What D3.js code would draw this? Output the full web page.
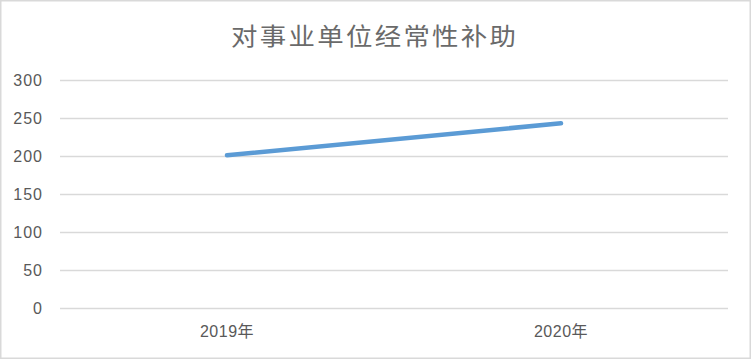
<!DOCTYPE html>
<html>
<head>
<meta charset="utf-8">
<script src="https://cdn.jsdelivr.net/npm/d3@7"></script>
<style>
html,body{margin:0;padding:0;background:#fff;}
svg{display:block;}
</style>
</head>
<body>
<svg id="chart" width="752" height="360"></svg>
<script>
const title = "对事业单位经常性补助";
const categories = ["2019年", "2020年"];
const values = [201, 243];
const yTicks = [0, 50, 100, 150, 200, 250, 300];

const W = 752, H = 360;
const margin = {left: 60, right: 24, top: 80, bottom: 52};
const svg = d3.select("#chart");

svg.append("rect")
  .attr("x", 0.75).attr("y", 0.75)
  .attr("width", W - 2.5).attr("height", H - 2.5)
  .attr("fill", "#fff").attr("stroke", "#d9d9d9").attr("stroke-width", 1.5);

const x = d3.scaleBand().domain(categories).range([margin.left, W - margin.right]);
const y = d3.scaleLinear().domain([0, 300]).range([H - margin.bottom, margin.top]);

// gridlines
const yAxis = d3.axisLeft(y).tickValues(yTicks).tickSize(-(W - margin.left - margin.right)).tickPadding(17);
const gy = svg.append("g").attr("transform", `translate(${margin.left},0)`).call(yAxis);
gy.select(".domain").remove();
gy.selectAll(".tick line").attr("stroke", "#d9d9d9").attr("stroke-width", 1.3);
gy.selectAll(".tick text")
  .attr("fill", "#595959")
  .style("font-family", "'Liberation Sans', Arial, sans-serif")
  .style("font-size", "16px")
  .style("letter-spacing", "1px")
  .attr("dy", "0.36em");

// x axis labels
const xAxis = d3.axisBottom(x).tickSize(0).tickPadding(18);
const gx = svg.append("g").attr("transform", `translate(0,${H - margin.bottom})`).call(xAxis);
gx.select(".domain").remove();
gx.selectAll(".tick text")
  .attr("fill", "#595959")
  .style("font-family", "'Liberation Sans', 'Noto Sans CJK SC', sans-serif")
  .style("font-size", "16px")
  .style("letter-spacing", "0.5px");

// line
const line = d3.line()
  .x((d, i) => x(categories[i]) + x.bandwidth() / 2)
  .y(d => y(d));
svg.append("path")
  .datum(values)
  .attr("d", line)
  .attr("fill", "none")
  .attr("stroke", "#5b9bd5")
  .attr("stroke-width", 4.5)
  .attr("stroke-linecap", "round");

// title
svg.append("text")
  .attr("transform", "translate(373.5,45) scale(1.1,1)")
  .attr("text-anchor", "middle")
  .attr("textLength", 259)
  .attr("lengthAdjust", "spacing")
  .attr("fill", "#6a6a6a")
  .style("font-family", "'Noto Sans CJK SC', sans-serif")
  .style("font-size", "24px")
  .text(title);
</script>
</body>
</html>
